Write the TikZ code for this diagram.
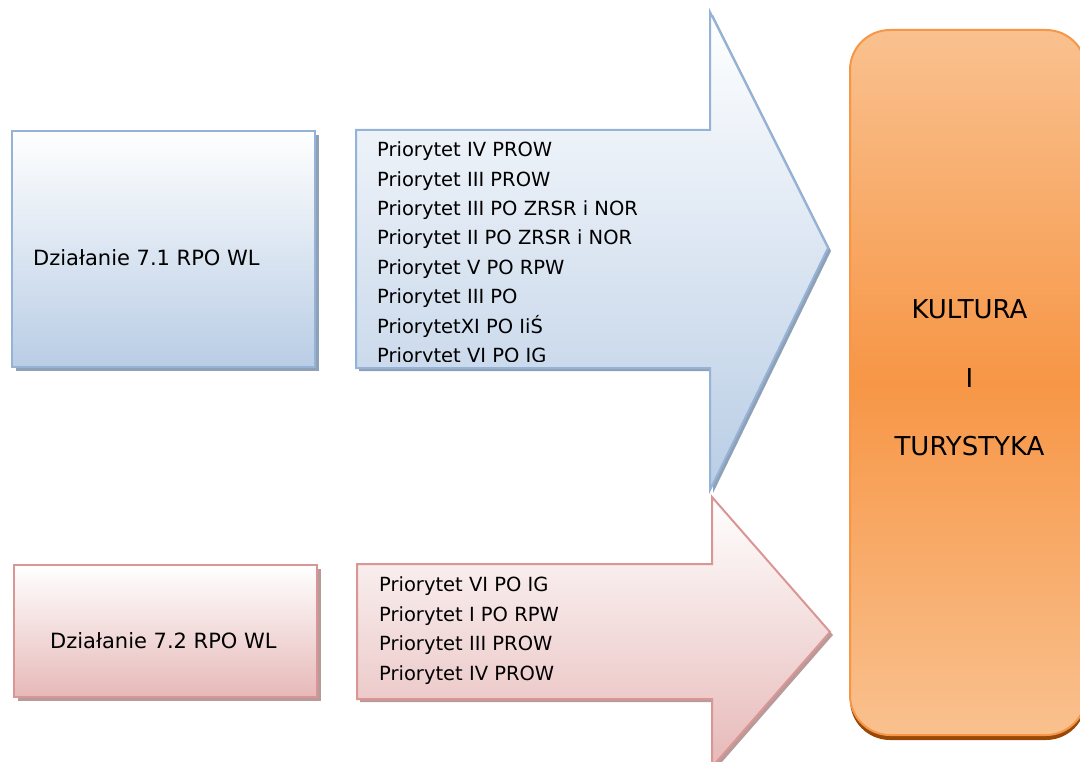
\documentclass[tikz,border=0pt]{standalone}
\usepackage{fontspec}
\setmainfont{DejaVu Sans}
\definecolor{bluefill}{HTML}{B9CDE5}
\definecolor{blueline}{HTML}{95B3D7}
\definecolor{blueshade}{HTML}{8FA1B6}
\definecolor{redfill}{HTML}{E6B9B8}
\definecolor{redline}{HTML}{D99694}
\definecolor{redshade}{HTML}{B99A9A}
\definecolor{orangemid}{HTML}{F79646}
\definecolor{orangelight}{HTML}{F9C18F}
\definecolor{orangeshade}{HTML}{984807}

\begin{document}
\begin{tikzpicture}[x=1pt,y=-1pt,
    bluebox/.style={draw=blueline,line width=2pt,top color=white,bottom color=bluefill},
    redbox/.style={draw=redline,line width=2pt,top color=white,bottom color=redfill},
    listtext/.style={anchor=base west,inner sep=0pt,font=\fontsize{19.5}{24}\selectfont},
    boxtext/.style={anchor=base west,inner sep=0pt,font=\fontsize{21}{26}\selectfont},
    bigtext/.style={anchor=base,inner sep=0pt,font=\fontsize{26}{30}\selectfont}]
    \useasboundingbox (0,0) rectangle (1080,762);
    \fill[blueshade] (16,135) rectangle (319,371);
    \draw[bluebox] (12,131) rectangle (315,367);
    \node[boxtext] (d1) at (33,266) {Działanie 7.1 RPO WL};
    \fill[blueshade] (359,133) -- (713,133) -- (713,15) -- (831,251) -- (713,493) -- (713,371) -- (359,371) -- cycle;
    \draw[bluebox] (356,130) -- (710,130) -- (710,12) -- (828,248) -- (710,490) -- (710,368) -- (356,368) -- cycle;
    \begin{scope}
    \clip (356,130) rectangle (710,361);
    \foreach \t [count=\i] in {Priorytet IV PROW,Priorytet III PROW,Priorytet III PO ZRSR i NOR,
      Priorytet II PO ZRSR i NOR,Priorytet V PO RPW,Priorytet III PO,PriorytetXI PO IiŚ,Priorytet VI PO IG}
      \node[listtext] (a\i) at (377,{156.7+29.4*(\i-1)}) {\t};
    \end{scope}
    \fill[redshade] (18,569) rectangle (321,701);
    \draw[redbox] (14,565) rectangle (317,697);
    \node[boxtext] (d2) at (50,648.3) {Działanie 7.2 RPO WL};
    \fill[redshade] (360,567) -- (715,567) -- (715,500) -- (833,635) -- (715,770) -- (715,702) -- (360,702) -- cycle;
    \draw[redbox] (357,564) -- (712,564) -- (712,497) -- (830,632) -- (712,767) -- (712,699) -- (357,699) -- cycle;
    \foreach \t [count=\i] in {Priorytet VI PO IG,Priorytet I PO RPW,Priorytet III PROW,Priorytet IV PROW}
      \node[listtext] (b\i) at (379,{591.7+29.5*(\i-1)}) {\t};
    \fill[orangeshade,rounded corners=40] (850,36) rectangle (1086,740);
    \shade[top color=orangelight,bottom color=orangelight,middle color=orangemid,draw=orangemid,
      line width=2pt,rounded corners=40] (850,30) rectangle (1086,735);
    \node[bigtext] (k1) at (969.5,319) {KULTURA};
    \node[bigtext] (k2) at (969.5,387) {I};
    \node[bigtext] (k3) at (969.5,455) {TURYSTYKA};
\end{tikzpicture}
\end{document}
